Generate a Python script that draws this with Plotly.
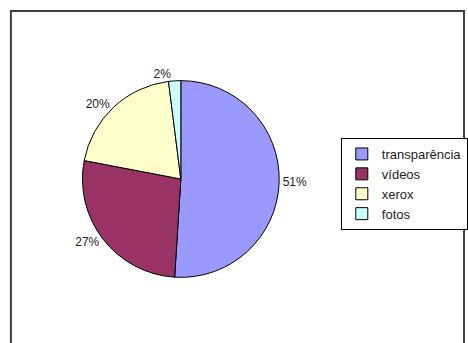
import plotly.graph_objects as go

labels = ["transparência", "vídeos", "xerox", "fotos"]
values = [51, 27, 20, 2]
colors = ["#9999FF", "#993366", "#FFFFCC", "#CCFFFF"]

W, H = 468, 343
cx, cy, r = 182, 179, 99

fig = go.Figure(go.Pie(
    labels=labels,
    values=values,
    sort=False,
    direction="clockwise",
    rotation=0,
    marker=dict(colors=colors, line=dict(color="#000000", width=1)),
    textinfo="percent",
    textposition="outside",
    textfont=dict(family="Liberation Sans, Arial", size=12, color="#222222"),
    domain=dict(x=[(cx - r) / W, (cx + r) / W], y=[1 - (cy + r) / H, 1 - (cy - r) / H]),
    hoverinfo="label+percent",
))

fig.update_layout(
    width=W, height=H,
    margin=dict(l=0, r=0, t=0, b=0),
    paper_bgcolor="white",
    plot_bgcolor="white",
    showlegend=True,
    legend=dict(
        x=343 / W, y=1 - 138 / H, xanchor="left", yanchor="top",
        bordercolor="#000000", borderwidth=1, bgcolor="white",
        font=dict(family="Liberation Sans, Arial", size=13, color="#222222"),
        itemwidth=30,
    ),
    shapes=[dict(type="rect", xref="paper", yref="paper",
                 x0=11 / W, x1=467 / W, y0=-0.05, y1=1 - 11 / H,
                 line=dict(color="#404040", width=2), fillcolor="rgba(0,0,0,0)")],
)

fig.write_html("out.html")
